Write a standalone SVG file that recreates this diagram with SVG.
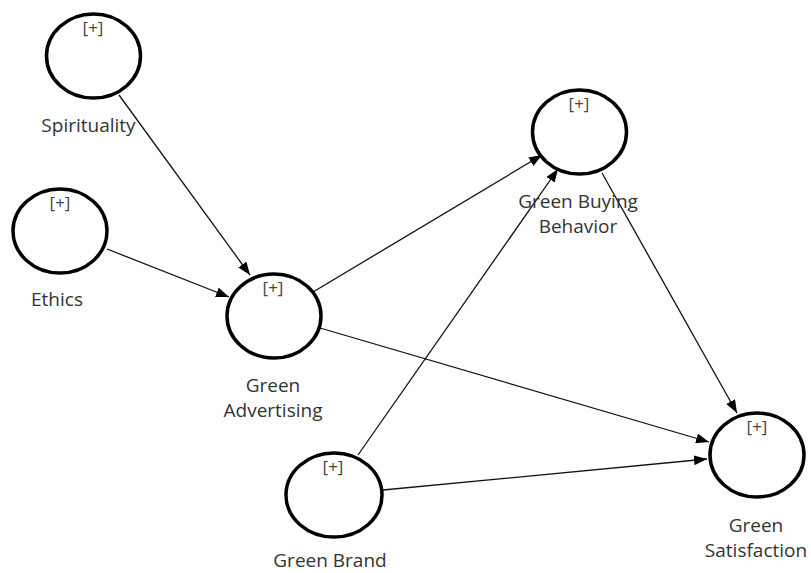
<svg xmlns="http://www.w3.org/2000/svg" width="811" height="573" viewBox="0 0 811 573">
<defs>
<style>
.node ellipse{fill:#fff;stroke:#000;stroke-width:3.5}
.plus{font-family:"Open Sans","Noto Sans",sans-serif;font-size:17px;fill:#444;text-anchor:middle}
.lbl{font-family:"Open Sans","Noto Sans",sans-serif;font-size:19px;fill:#333;text-anchor:middle}
.edge{stroke:#111;stroke-width:1.3;fill:none;marker-end:url(#arr)}
</style>
<marker id="arr" markerUnits="userSpaceOnUse" markerWidth="14" markerHeight="10" refX="13" refY="5" orient="auto">
<path d="M0,0 L13,5 L0,10 Z" fill="#000"/>
</marker>
</defs>
<rect width="811" height="573" fill="#fff"/>
<g id="connectors">
<line class="edge" x1="119" y1="95" x2="250" y2="275"/>
<line class="edge" x1="107" y1="249" x2="229" y2="297"/>
<line class="edge" x1="313" y1="292" x2="542" y2="155"/>
<line class="edge" x1="320" y1="328" x2="709" y2="442"/>
<line class="edge" x1="358" y1="455" x2="558" y2="169"/>
<line class="edge" x1="383" y1="490" x2="707" y2="459"/>
<line class="edge" x1="602" y1="173" x2="737" y2="413"/>
</g>
<g id="spirituality" class="node">
<ellipse cx="93.5" cy="56" rx="47" ry="42"/>
<text class="plus" x="93" y="34">[+]</text>
<text class="lbl" x="88.5" y="132">Spirituality</text>
</g>
<g id="ethics" class="node">
<ellipse cx="60" cy="231" rx="47" ry="42"/>
<text class="plus" x="60" y="209">[+]</text>
<text class="lbl" x="57" y="306">Ethics</text>
</g>
<g id="green-advertising" class="node">
<ellipse cx="274" cy="316" rx="47" ry="42"/>
<text class="plus" x="273" y="294">[+]</text>
<text class="lbl" x="273" y="392">Green</text>
<text class="lbl" x="273" y="417">Advertising</text>
</g>
<g id="green-buying-behavior" class="node">
<ellipse cx="579.5" cy="132" rx="47" ry="42"/>
<text class="plus" x="579" y="110">[+]</text>
<text class="lbl" x="578" y="208">Green Buying</text>
<text class="lbl" x="578" y="233">Behavior</text>
</g>
<g id="green-brand" class="node">
<ellipse cx="334" cy="495" rx="48" ry="42"/>
<text class="plus" x="333" y="473">[+]</text>
<text class="lbl" x="330" y="567">Green Brand</text>
</g>
<g id="green-satisfaction" class="node">
<ellipse cx="757" cy="455" rx="47" ry="42"/>
<text class="plus" x="757" y="433">[+]</text>
<text class="lbl" x="756" y="532">Green</text>
<text class="lbl" x="756" y="557">Satisfaction</text>
</g>
</svg>
